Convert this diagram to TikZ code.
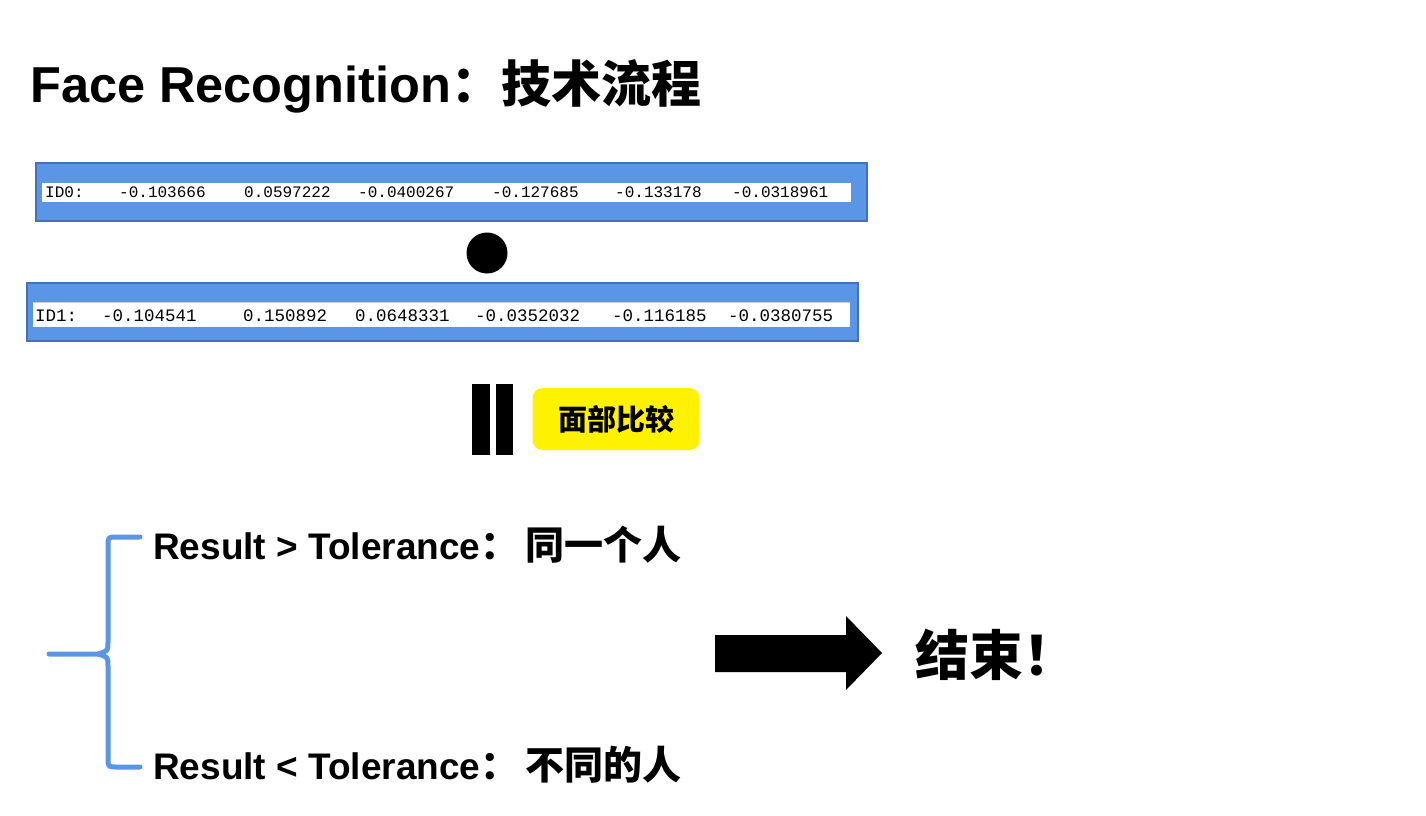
\documentclass[tikz,border=0pt]{standalone}
\usepackage{fontspec}
\setmainfont{Liberation Sans}
\setmonofont{Liberation Mono}
\newfontfamily\cjk{Noto Sans CJK SC}
\definecolor{barblue}{HTML}{5B95E6}
\definecolor{baredge}{HTML}{4470B8}
\newcommand{\fsz}[1]{\fontsize{#1}{#1}\selectfont}

\tikzset{
  idbar/.style={draw=baredge, line width=1.5pt, fill=barblue, inner sep=0pt,
                minimum width=831pt, minimum height=58pt},
  idstrip/.style={fill=white, inner sep=0pt},
  val0/.style={anchor=west, inner sep=0pt, font=\ttfamily\fsz{16}},
  val1/.style={anchor=west, inner sep=0pt, font=\ttfamily\fsz{17.5}},
  eqbar/.style={fill=black, inner sep=0pt, minimum width=17.5pt, minimum height=71pt},
  tag/.style={fill=yellow, rounded corners=10pt, inner sep=0pt,
              minimum width=167pt, minimum height=62pt, font=\cjk\bfseries\fsz{29}},
  result/.style={anchor=base west, inner sep=0pt, font=\bfseries\fsz{37}},
  brace/.style={draw=barblue, line width=5pt, line cap=round, line join=round}
}

\begin{document}
\begin{tikzpicture}[x=1pt, y=-1pt]
\useasboundingbox (0,0) rectangle (1426,816);

% title
\node[anchor=base west, inner sep=0pt, font=\bfseries\fsz{50.5}] (title) at (30,102)
  {Face Recognition{\cjk\fsz{50}：技术流程}};

% first feature vector
\node[idbar] (bar0) at (451.5,192) {};
\node[idstrip, minimum width=809pt, minimum height=19pt] (strip0) at (446.5,192.5) {};
\node[val0] (a0) at (45,192.5) {ID0:};
\node[val0] (a1) at (119,192.5) {-0.103666};
\node[val0] (a2) at (244,192.5) {0.0597222};
\node[val0] (a3) at (358,192.5) {-0.0400267};
\node[val0] (a4) at (492,192.5) {-0.127685};
\node[val0] (a5) at (615,192.5) {-0.133178};
\node[val0] (a6) at (732,192.5) {-0.0318961};

% dot product
\node[circle, fill=black, inner sep=0pt, minimum size=41pt] (dot) at (487,253) {};

% second feature vector
\node[idbar] (bar1) at (442.5,312) {};
\node[idstrip, minimum width=817pt, minimum height=24pt] (strip1) at (441.5,315) {};
\draw[black!20, line width=1pt] (strip1.north west) -- (strip1.north east);
\node[val1] (b0) at (35,316) {ID1:};
\node[val1] (b1) at (102,316) {-0.104541};
\node[val1] (b2) at (243,316) {0.150892};
\node[val1] (b3) at (355,316) {0.0648331};
\node[val1] (b4) at (475,316) {-0.0352032};
\node[val1] (b5) at (612,316) {-0.116185};
\node[val1] (b6) at (728,316) {-0.0380755};

% equals sign and comparison tag
\node[eqbar] (eqL) at (481,419.5) {};
\node[eqbar] (eqR) at (504.5,419.5) {};
\node[tag] (cmp) at (616,419) {面部比较};

% decision brace
\coordinate (bTop) at (140,537);
\coordinate (bBot) at (140,767);
\coordinate (bTip) at (49,654);
\draw[brace] (bTop) -- (117,537) .. controls (108,537) .. (108,546) -- (108,642)
  .. controls (108,651) .. (98,654) -- (bTip);
\draw[brace] (bBot) -- (117,767) .. controls (108,767) .. (108,758) -- (108,666)
  .. controls (108,657) .. (98,654);

\node[result] (same) at (153,559) {Result > Tolerance{\cjk\fsz{39}：\hspace{6pt}同一个人}};
\node[result] (diff) at (153,779) {Result < Tolerance{\cjk\fsz{39}：\hspace{6pt}不同的人}};

% final arrow
\fill[black] (715,635) -- (846,635) -- (846,616) -- (882,653) -- (846,690)
  -- (846,672) -- (715,672) -- cycle;
\node[anchor=west, inner sep=0pt, font=\cjk\bfseries\fsz{54}] (done) at (915,655) {结束！};
\end{tikzpicture}
\end{document}
